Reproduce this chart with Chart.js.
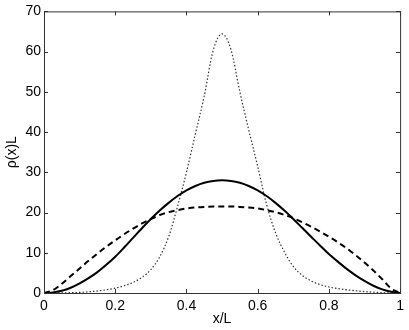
<!DOCTYPE html>
<html>
<head>
<meta charset="utf-8">
<script src="https://cdn.jsdelivr.net/npm/chart.js@4"></script>
<style>
html,body{margin:0;padding:0;background:#fff;}
#wrap{width:409px;height:330px;position:relative;}
</style>
</head>
<body>
<div id="wrap"><canvas id="c" width="409" height="330"></canvas></div>
<script>
const xValues = [0,0.025,0.05,0.075,0.1,0.125,0.15,0.175,0.2,0.225,0.25,0.275,0.3,0.325,0.35,0.375,0.4,0.425,0.45,0.475,0.5,
                 0.525,0.55,0.575,0.6,0.625,0.65,0.675,0.7,0.725,0.75,0.775,0.8,0.825,0.85,0.875,0.9,0.925,0.95,0.975,1];
const solidValues = [0,0.15,0.55,1.3,2.4,3.7,5.2,7.0,9.0,11.3,13.7,16.1,18.4,20.5,22.4,24.1,25.5,26.6,27.4,27.85,28.0,
                     27.85,27.4,26.6,25.5,24.1,22.4,20.5,18.4,16.2,14.0,11.8,9.7,7.8,6.0,4.4,3.0,1.8,0.9,0.3,0];
const dashedValues = [0,0.7,2.3,4.2,6.1,8.0,9.8,11.5,13.1,14.6,16.0,17.3,18.4,19.4,20.1,20.6,21.0,21.25,21.4,21.5,21.5,
                      21.5,21.4,21.25,21.0,20.6,20.1,19.4,18.6,17.6,16.5,15.3,14.0,12.6,11.1,9.4,7.6,5.6,3.4,1.1,0];
const dottedValues = [0,0,0.03,0.08,0.15,0.3,0.5,0.8,1.2,1.8,2.6,3.9,5.8,9.0,14.0,21.5,30.0,39.5,49.0,60.3,64.4,
                      60.5,50.0,40.5,31.5,22.0,15.0,10.2,6.6,4.4,3.0,2.1,1.5,1.1,0.8,0.55,0.35,0.2,0.1,0,0];
const xTicks = [0,0.2,0.4,0.6,0.8,1];
const yTicks = [0,10,20,30,40,50,60,70];

function pts(vals){ return xValues.map((x,i)=>({x:x,y:vals[i]})); }

const frame = {
  id:'frame',
  afterDraw(chart){
    const {ctx, chartArea:a, scales:{x,y}} = chart;
    ctx.save();
    ctx.strokeStyle = '#333';
    ctx.lineWidth = 1;
    ctx.strokeRect(a.left+0.5, a.top+0.5, a.right-a.left, a.bottom-a.top);
    const L = 4;
    ctx.beginPath();
    x.ticks.forEach(t=>{
      const px = Math.round(x.getPixelForValue(t.value))+0.5;
      ctx.moveTo(px, a.bottom); ctx.lineTo(px, a.bottom-L);
      ctx.moveTo(px, a.top); ctx.lineTo(px, a.top+L);
    });
    y.ticks.forEach(t=>{
      const py = Math.round(y.getPixelForValue(t.value))+0.5;
      ctx.moveTo(a.left, py); ctx.lineTo(a.left+L, py);
      ctx.moveTo(a.right, py); ctx.lineTo(a.right-L, py);
    });
    ctx.stroke();
    ctx.restore();
  }
};

const font = {family:'"Liberation Sans", Arial, Helvetica, sans-serif', size:14};

new Chart(document.getElementById('c'), {
  type:'line',
  data:{
    datasets:[
      {label:'solid', data:pts(solidValues), borderColor:'#000', borderWidth:2, pointRadius:0, cubicInterpolationMode:'monotone', fill:false},
      {label:'dashed', data:pts(dashedValues), borderColor:'#000', borderWidth:2, borderDash:[6,4], pointRadius:0, cubicInterpolationMode:'monotone', fill:false},
      {label:'dotted', data:pts(dottedValues), borderColor:'#333', borderWidth:1.2, borderDash:[1.5,2], pointRadius:0, cubicInterpolationMode:'monotone', fill:false}
    ]
  },
  options:{
    responsive:false,
    animation:false,
    layout:{padding:{left:0,right:7,top:11,bottom:0}},
    plugins:{legend:{display:false}, tooltip:{enabled:false}},
    scales:{
      x:{
        type:'linear', min:0, max:1,
        grid:{display:false, drawTicks:false}, border:{display:false},
        afterBuildTicks:(s)=>{ s.ticks = xTicks.map(v=>({value:v})); },
        afterFit:(s)=>{ s.height = 37; },
        ticks:{color:'#000', font:font, padding:5, maxRotation:0,
               callback:(v)=>String(Number(v.toFixed(1)))},
        title:{display:true, text:'x/L', color:'#000', font:font, padding:{top:0,bottom:2}}
      },
      y:{
        type:'linear', min:0, max:70,
        grid:{display:false, drawTicks:false}, border:{display:false},
        afterBuildTicks:(s)=>{ s.ticks = yTicks.map(v=>({value:v})); },
        afterFit:(s)=>{ s.width = 44; },
        ticks:{color:'#000', font:font, padding:3},
        title:{display:true, text:'ρ(x)L', color:'#000', font:font, padding:{top:4,bottom:0}}
      }
    }
  },
  plugins:[frame]
});
</script>
</body>
</html>
